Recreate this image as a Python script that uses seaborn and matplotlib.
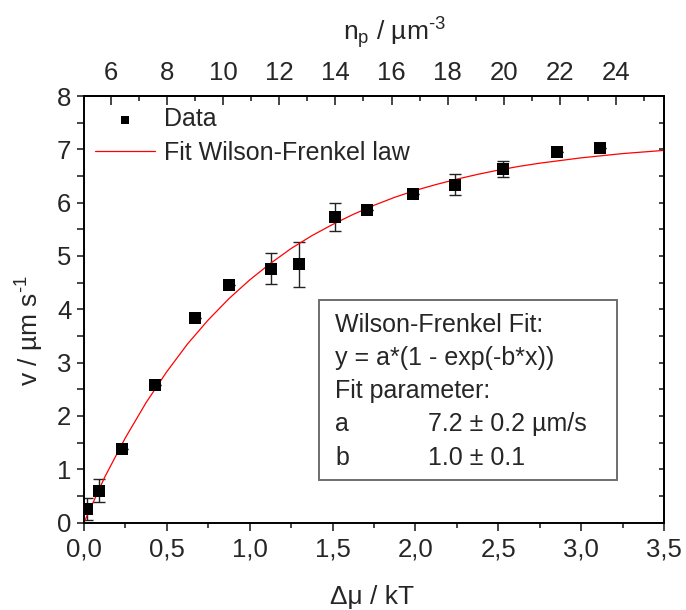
import numpy as np
import matplotlib
matplotlib.use('Agg')
import matplotlib.pyplot as plt
from matplotlib.patches import Rectangle
from matplotlib.ticker import MultipleLocator, FuncFormatter
import seaborn as sns

# measured growth velocity vs. supersaturation
dmu = [0.02, 0.09, 0.23, 0.43, 0.67, 0.875, 1.127, 1.296, 1.513, 1.71, 1.984, 2.24, 2.527, 2.853, 3.114]
v = [0.25, 0.60, 1.38, 2.58, 3.83, 4.46, 4.76, 4.84, 5.73, 5.86, 6.16, 6.34, 6.63, 6.95, 7.03]
v_err = [0.21, 0.22, 0.0, 0.0, 0.0, 0.0, 0.29, 0.42, 0.26, 0.0, 0.0, 0.19, 0.15, 0.0, 0.0]

# Wilson-Frenkel fit curve
fit_x = [0.0, 0.125, 0.25, 0.375, 0.5, 0.625, 0.75, 0.875, 1.0, 1.125, 1.25, 1.375, 1.5,
         1.625, 1.75, 1.875, 2.0, 2.125, 2.25, 2.375, 2.5, 2.625, 2.75, 2.875, 3.0,
         3.125, 3.25, 3.375, 3.5]
fit_y = [0.0, 0.85, 1.59, 2.25, 2.83, 3.35, 3.80, 4.20, 4.55, 4.86, 5.14, 5.38, 5.59,
         5.78, 5.95, 6.10, 6.23, 6.34, 6.44, 6.53, 6.61, 6.68, 6.74, 6.79, 6.84,
         6.88, 6.92, 6.95, 6.98]

# top axis: particle density range spanning the bottom axis
np_lo, np_hi = 5.04, 25.71
np_ticks = [6, 8, 10, 12, 14, 16, 18, 20, 22, 24]

box_lines = ['Wilson-Frenkel Fit:', 'y = a*(1 - exp(-b*x))', 'Fit parameter:']
param_names = ['a', 'b']
param_vals = ['7.2 ± 0.2 µm/s', '1.0 ± 0.1']

sns.set_style('ticks')
plt.rcParams['font.family'] = ['Liberation Sans', 'DejaVu Sans']
plt.rcParams['mathtext.fontset'] = 'custom'
plt.rcParams['mathtext.rm'] = 'Liberation Sans'
plt.rcParams['mathtext.default'] = 'regular'

fig = plt.figure(figsize=(6.86, 6.10), dpi=100)
ax = fig.add_axes([0.1224, 0.1434, 0.8455, 0.6992])

ax.errorbar(dmu, v, yerr=v_err, fmt='none', ecolor='#222222', elinewidth=1.0,
            capsize=4, capthick=1.0, zorder=2)
sns.scatterplot(x=dmu, y=v, marker='s', s=72, color='black', edgecolor='black',
                linewidth=0, label='Data', ax=ax, zorder=3)
sns.lineplot(x=fit_x, y=fit_y, color='red', lw=0.9, label='Fit Wilson-Frenkel law',
             ax=ax, zorder=2.5)

ax.set_xlim(0, 3.5)
ax.set_ylim(0, 8)
ax.xaxis.set_major_locator(MultipleLocator(0.5))
ax.xaxis.set_minor_locator(MultipleLocator(0.25))
ax.xaxis.set_major_formatter(FuncFormatter(lambda x, p: f'{x:.1f}'.replace('.', ',')))
ax.yaxis.set_major_locator(MultipleLocator(1))
ax.yaxis.set_minor_locator(MultipleLocator(0.5))

ax.tick_params(axis='x', which='major', direction='out', length=5.8, width=1.2,
               labelsize=18.5, pad=5)
ax.tick_params(axis='x', which='minor', direction='out', length=3.6, width=1.2)
ax.tick_params(axis='y', which='both', direction='out', length=5, width=1.2,
               labelsize=18.5, pad=4)
for s in ax.spines.values():
    s.set_linewidth(1.4)
    s.set_color('black')

# right side: inward ticks only
secR = ax.secondary_yaxis('right')
secR.yaxis.set_major_locator(MultipleLocator(1))
secR.yaxis.set_minor_locator(MultipleLocator(0.5))
secR.tick_params(which='both', direction='in', length=3.6, width=1.2, labelright=False)
secR.spines['right'].set_linewidth(1.4)

# top axis: particle density
secT = ax.secondary_xaxis('top', functions=(
    lambda x: np_lo + x * (np_hi - np_lo) / 3.5,
    lambda n: (n - np_lo) * 3.5 / (np_hi - np_lo)))
secT.set_xticks(np_ticks)
secT.xaxis.set_minor_locator(MultipleLocator(1))
secT.tick_params(which='major', direction='in', length=6.5, width=1.2, labelsize=18.5, pad=8)
secT.tick_params(which='minor', direction='in', length=3.6, width=1.2)
secT.spines['top'].set_linewidth(1.4)

ax.set_xlabel('Δμ / kT', fontsize=19, va='center')
ax.xaxis.set_label_coords(0.497, -0.175)
ax.set_ylabel(r'v / µm s$^{\text{-1}}$', fontsize=19, va='center')
ax.yaxis.set_label_coords(-0.093, 0.449)
fig.text(394 / 686, 1 - 33 / 610, r'n$_p$ / µm$^{\text{-3}}$', fontsize=19,
         ha='center', va='center')

ax.legend(loc='upper left', frameon=False, fontsize=18, markerscale=0.6,
          handlelength=2.4, handletextpad=0.35, borderpad=0.2,
          borderaxespad=0.25, labelspacing=0.38)

ax.add_patch(Rectangle((0.405, 0.0997), 0.514, 0.422, transform=ax.transAxes,
                       facecolor='white', edgecolor='#6e6e6e', lw=1.4, zorder=4))
baselines = [0.4474, 0.3693, 0.2919, 0.2145, 0.1348]
for txt, yb in zip(box_lines, baselines[:3]):
    ax.text(0.4328, yb, txt, transform=ax.transAxes, fontsize=18, va='baseline', zorder=5)
for name, val, yb in zip(param_names, param_vals, baselines[3:]):
    ax.text(0.4328, yb, name, transform=ax.transAxes, fontsize=18, va='baseline', zorder=5)
    ax.text(0.5931, yb, val, transform=ax.transAxes, fontsize=18, va='baseline', zorder=5)

fig.savefig('out.png', dpi=100)
